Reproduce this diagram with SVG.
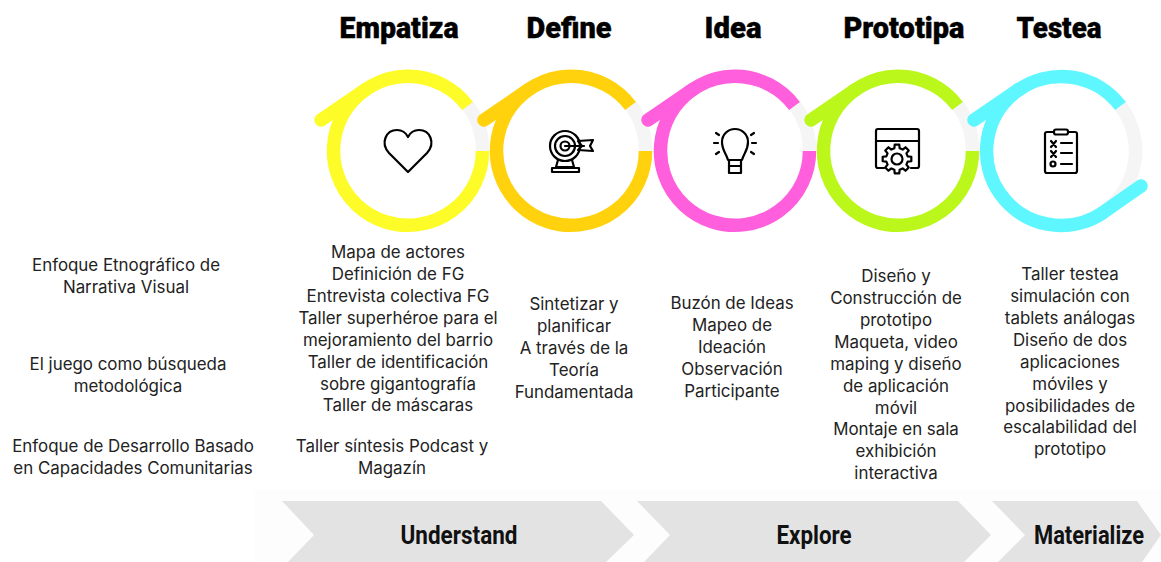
<svg xmlns="http://www.w3.org/2000/svg" width="1161" height="562" viewBox="0 0 1161 562">
<style>
.t{font-family:"Inter","Roboto","Liberation Sans",sans-serif;font-size:16.9px;fill:#222;text-anchor:middle}
.h{font-family:"Roboto","Liberation Sans",sans-serif;font-size:30px;font-weight:900;fill:#000;stroke:#000;stroke-width:.4;text-anchor:middle}
.b{font-family:"Roboto","Liberation Sans",sans-serif;font-size:26px;font-weight:700;fill:#111;text-anchor:middle}
.g{fill:none;stroke:#f4f5f4;stroke-width:13.5}
.a{fill:none;stroke-width:13.5}
.r{fill:none;stroke-width:13.5;stroke-linecap:round}
.i{fill:none;stroke:#000;stroke-width:2.2;stroke-linecap:round;stroke-linejoin:round}
.s{fill:#e3e3e3}
.y{stroke:#fdfc28}.o{stroke:#ffd20d}.p{stroke:#ff5fdc}.l{stroke:#bcf71c}.c{stroke:#5ff7ff}
</style>
<defs>
<path id="gap" class="g" d="M59.5 -46A75 75 0 0 1 74.500 0"/>
<path id="arc" d="M74.500 0A74.500 74.500 0 1 1 59.500 -45"/>
<path id="tail" d="M-41.700 -61.800L-87 -31"/>
</defs>
<rect x="255" y="490" width="906" height="72" fill="#fdfdfd"/>
<g id="rings">
<g id="ring-empatiza" transform="translate(408 151)"><use href="#gap"/><use href="#arc" class="a y"/><use href="#tail" class="r y"/></g>
<g id="ring-define" transform="translate(571 151)"><use href="#gap"/><use href="#arc" class="a o"/><use href="#tail" class="r o"/></g>
<g id="ring-idea" transform="translate(735 151)"><use href="#gap"/><use href="#arc" class="a p"/><use href="#tail" class="r p"/></g>
<g id="ring-prototipa" transform="translate(898 151)"><use href="#gap"/><use href="#arc" class="a l"/><use href="#tail" class="r l"/></g>
<g id="ring-testea" transform="translate(1061 151)"><path class="g" d="M59.500 -45A74.500 74.500 0 0 1 41.700 61.800"/><path class="a c" d="M59.500 -45A74.500 74.500 0 1 0 41.700 61.800"/><use href="#tail" class="r c"/><path class="r c" d="M41.700 61.800L80 35"/></g>
</g>
<g id="icon-heart"><path class="i" d="M408 172L389 153C380 143 386 130 397 130C402 130 406 133 408 137C410 133 414 130 419 130C430 130 436 143 427 153Z"/></g>
<g id="icon-target"><circle class="i" cx="565" cy="146" r="15"/><circle class="i" cx="565" cy="146" r="10"/><circle class="i" cx="565" cy="146" r="4.500"/><path class="i" d="M565 146H584M582 146L578 141L593 140L590 146L593 151L578 150ZM558 160L556 167H574L572 160M552 172V168H579V172Z"/></g>
<g id="icon-bulb"><path class="i" d="M728 160C726 153 722 150 722 142A13 13 0 0 1 748 142C748 150 744 153 742 160ZM729 160V173H741V160M730 166H740M714 143H718M752 143H756M716 133L719 135M754 133L751 135M716 154L719 152M754 154L751 152"/></g>
<g id="icon-window"><path class="i" d="M884 168H878Q876 168 876 166V131Q876 129 878 129H917Q919 129 919 131V166Q919 168 917 168H911M876 141H919"/><path class="i" style="fill:#fff" transform="translate(897 159)" d="M-2.660 -10.670L-2.270 -14.320L2.270 -14.320L2.660 -10.670L5.660 -9.420L8.520 -11.730L11.730 -8.520L9.420 -5.660L10.670 -2.660L14.320 -2.270L14.320 2.270L10.670 2.660L9.420 5.660L11.730 8.520L8.520 11.730L5.660 9.420L2.660 10.670L2.270 14.320L-2.270 14.320L-2.660 10.670L-5.660 9.420L-8.520 11.730L-11.730 8.520L-9.420 5.660L-10.670 2.660L-14.320 2.270L-14.320 -2.270L-10.670 -2.660L-9.420 -5.660L-11.730 -8.520L-8.520 -11.730L-5.660 -9.420Z"/><circle class="i" cx="897" cy="159" r="5.500"/></g>
<g id="icon-clip"><path class="i" d="M1053 132H1047Q1045 132 1045 134V171Q1045 173 1047 173H1075Q1077 173 1077 171V134Q1077 132 1075 132H1069"/><rect class="i" x="1054" y="129.500" width="14" height="5" rx="2"/><path class="i" d="M1051 141L1056 147M1056 141L1051 147M1051 151L1056 157M1056 151L1051 157M1061 143H1072M1061 153H1072M1061 164H1072"/><circle class="i" cx="1053" cy="164" r="2.500"/></g>
<g id="headings">
<text class="h" x="399" y="38" textLength="119" lengthAdjust="spacingAndGlyphs">Empatiza</text>
<text class="h" x="569" y="38" textLength="85" lengthAdjust="spacingAndGlyphs">Define</text>
<text class="h" x="733" y="38" textLength="57" lengthAdjust="spacingAndGlyphs">Idea</text>
<text class="h" x="904" y="38" textLength="121" lengthAdjust="spacingAndGlyphs">Prototipa</text>
<text class="h" x="1059" y="38" textLength="85" lengthAdjust="spacingAndGlyphs">Testea</text>
</g>
<g id="col-left">
<text class="t" x="126" y="271">Enfoque Etnográfico de</text>
<text class="t" x="126" y="293">Narrativa Visual</text>
<text class="t" x="128" y="370">El juego como búsqueda</text>
<text class="t" x="128" y="392">metodológica</text>
<text class="t" x="133" y="452">Enfoque de Desarrollo Basado</text>
<text class="t" x="133" y="474">en Capacidades Comunitarias</text>
</g>
<g id="col-empatiza">
<text class="t" x="398" y="258">Mapa de actores</text>
<text class="t" x="398" y="280">Definición de FG</text>
<text class="t" x="398" y="302">Entrevista colectiva FG</text>
<text class="t" x="398" y="323.500">Taller superhéroe para el</text>
<text class="t" x="398" y="345.500">mejoramiento del barrio</text>
<text class="t" x="398" y="367.500">Taller de identificación</text>
<text class="t" x="398" y="389.500">sobre gigantografía</text>
<text class="t" x="398" y="411">Taller de máscaras</text>
<text class="t" x="392" y="452">Taller síntesis Podcast y</text>
<text class="t" x="392" y="474">Magazín</text>
</g>
<g id="col-define">
<text class="t" x="574" y="310">Sintetizar y</text>
<text class="t" x="574" y="332">planificar</text>
<text class="t" x="574" y="354">A través de la</text>
<text class="t" x="574" y="376">Teoría</text>
<text class="t" x="574" y="398">Fundamentada</text>
</g>
<g id="col-idea">
<text class="t" x="732" y="309">Buzón de Ideas</text>
<text class="t" x="732" y="331">Mapeo de</text>
<text class="t" x="732" y="353">Ideación</text>
<text class="t" x="732" y="375">Observación</text>
<text class="t" x="732" y="397">Participante</text>
</g>
<g id="col-prototipa">
<text class="t" x="896" y="282">Diseño y</text>
<text class="t" x="896" y="304">Construcción de</text>
<text class="t" x="896" y="326">prototipo</text>
<text class="t" x="896" y="348">Maqueta, video</text>
<text class="t" x="896" y="370">maping y diseño</text>
<text class="t" x="896" y="391.500">de aplicación</text>
<text class="t" x="896" y="413.500">móvil</text>
<text class="t" x="896" y="435">Montaje en sala</text>
<text class="t" x="896" y="457">exhibición</text>
<text class="t" x="896" y="479">interactiva</text>
</g>
<g id="col-testea">
<text class="t" x="1070" y="280">Taller testea</text>
<text class="t" x="1070" y="302">simulación con</text>
<text class="t" x="1070" y="324">tablets análogas</text>
<text class="t" x="1070" y="346">Diseño de dos</text>
<text class="t" x="1070" y="367.500">aplicaciones</text>
<text class="t" x="1070" y="389.500">móviles y</text>
<text class="t" x="1070" y="411.500">posibilidades de</text>
<text class="t" x="1070" y="433">escalabilidad del</text>
<text class="t" x="1070" y="455">prototipo</text>
</g>
<g id="stage-understand"><path class="s" d="M282 501H601L634 535L606 562H288L314 535Z"/><text class="b" x="459" y="544" textLength="117" lengthAdjust="spacingAndGlyphs">Understand</text></g>
<g id="stage-explore"><path class="s" d="M637 501H958L991 535L964 562H644L670 535Z"/><text class="b" x="814" y="544" textLength="75" lengthAdjust="spacingAndGlyphs">Explore</text></g>
<g id="stage-materialize"><path class="s" d="M992 501H1137L1161 535L1142 562H998L1025 535Z"/><text class="b" x="1089" y="544" textLength="110" lengthAdjust="spacingAndGlyphs">Materialize</text></g>
</svg>
